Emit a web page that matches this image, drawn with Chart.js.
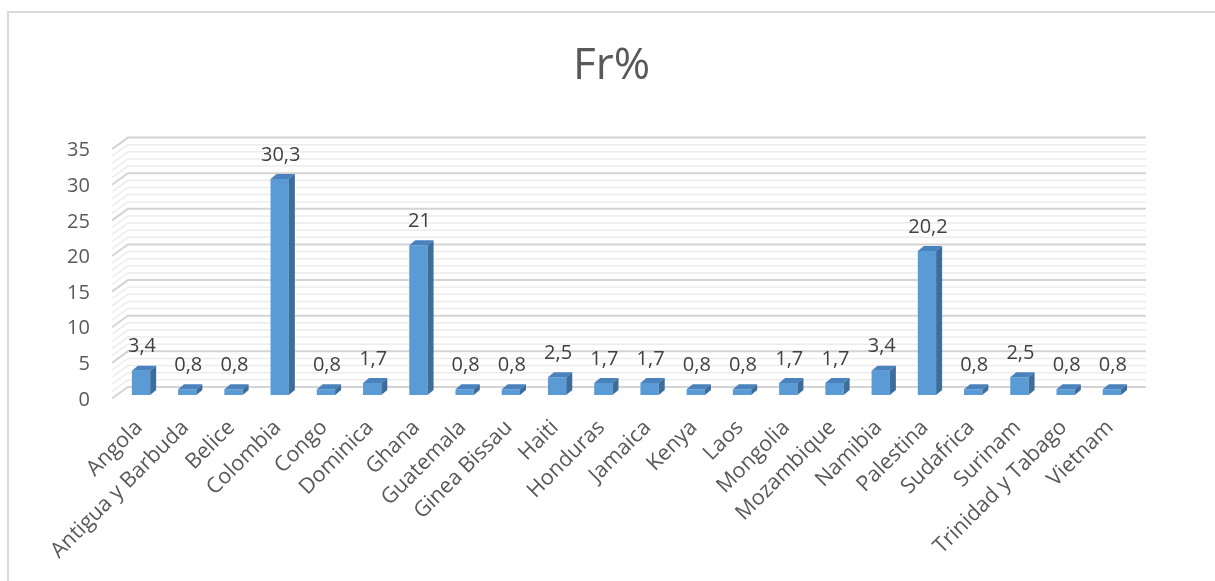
<!DOCTYPE html>
<html><head><meta charset="utf-8">
<script src="https://cdn.jsdelivr.net/npm/chart.js@4.4.1/dist/chart.umd.min.js"></script>
<style>
html,body{margin:0;padding:0;background:#fff;overflow:hidden;width:1215px;height:581px}
#frame{position:absolute;left:7px;top:11px;width:1400px;height:800px;border:2px solid #dadada;box-sizing:border-box}
#wrap{position:absolute;left:0;top:0;width:1215px;height:581px}
</style></head><body>
<div id="frame"></div>
<div id="wrap"><canvas id="c" width="1215" height="581"></canvas></div>
<script>
const chartTitle = 'Fr%';
const categories = ['Angola','Antigua y Barbuda','Belice','Colombia','Congo','Dominica','Ghana','Guatemala','Ginea Bissau','Haiti','Honduras','Jamaica','Kenya','Laos','Mongolia','Mozambique','Namibia','Palestina','Sudafrica','Surinam','Trinidad y Tabago','Vietnam'];
const values = [3.4,0.8,0.8,30.3,0.8,1.7,21,0.8,0.8,2.5,1.7,1.7,0.8,0.8,1.7,1.7,3.4,20.2,0.8,2.5,0.8,0.8];
const yMin = 0, yMax = 35, yStep = 5, yMinorStep = 1;

const FONT = "'Open Sans', 'Noto Sans', sans-serif";
const FRONT = '#5b9bd5', TOP = '#4a82bd', SIDE = '#3d6d9b';
const DX = 6, DY = -5;          // bar depth
const WALL_DX = 10, WALL_DY = -8; // back wall offset
const WALL_FRONT_X = 112, WALL_FRONT_DY = 3.5;

function fmt(v){ return String(v).replace('.', ','); }

const wallPlugin = {
  id: 'wall',
  beforeDatasetsDraw(chart){
    const ctx = chart.ctx, ys = chart.scales.y, ca = chart.chartArea;
    const x0 = ca.left + WALL_DX, x1 = ca.right + 11;
    ctx.save();
    ctx.lineCap = 'butt';
    for (let v = ys.min; v <= ys.max + 1e-9; v += yMinorStep) {
      const major = Math.abs(v / yStep - Math.round(v / yStep)) < 1e-9;
      const py = ys.getPixelForValue(v);
      ctx.strokeStyle = major ? '#d4d4d4' : '#ececec';
      ctx.lineWidth = major ? 2 : 1.5;
      ctx.beginPath();
      ctx.moveTo(WALL_FRONT_X, py + WALL_FRONT_DY);
      ctx.lineTo(x0, py + WALL_DY);
      ctx.lineTo(x1, py + WALL_DY);
      ctx.stroke();
    }
    ctx.restore();
  },
  afterDatasetsDraw(chart){
    const ctx = chart.ctx, meta = chart.getDatasetMeta(0);
    const ds = chart.data.datasets[0].data;
    ctx.save();
    meta.data.forEach((bar, i) => {
      const {x, y, base, width} = bar.getProps(['x','y','base','width'], true);
      const l = x - width/2, r = x + width/2;
      ctx.fillStyle = TOP;
      ctx.beginPath();
      ctx.moveTo(l, y); ctx.lineTo(r, y); ctx.lineTo(r+DX, y+DY); ctx.lineTo(l+DX, y+DY);
      ctx.closePath(); ctx.fill();
      ctx.fillStyle = SIDE;
      ctx.beginPath();
      ctx.moveTo(r, y); ctx.lineTo(r+DX, y+DY); ctx.lineTo(r+DX, base+DY); ctx.lineTo(r, base);
      ctx.closePath(); ctx.fill();
      ctx.fillStyle = '#404040';
      ctx.font = '20px ' + FONT;
      ctx.textAlign = 'center';
      ctx.textBaseline = 'middle';
      ctx.fillText(fmt(ds[i]), x + 1, y - 24);
    });
    ctx.restore();
  }
};

new Chart(document.getElementById('c'), {
  type: 'bar',
  data: {
    labels: categories,
    datasets: [{ data: values, backgroundColor: FRONT, borderWidth: 0,
      barPercentage: 0.396, categoryPercentage: 1 }]
  },
  options: {
    responsive: false,
    animation: false,
    events: [],
    layout: { padding: { left: 8, right: 0, top: 0, bottom: 0 } },
    plugins: {
      legend: { display: false },
      tooltip: { enabled: false },
      title: { display: true, text: chartTitle, color: '#595959',
        font: { family: FONT, size: 44, weight: 'normal', lineHeight: 1.2 },
        padding: { top: 40, bottom: 52.8 } }
    },
    scales: {
      x: {
        grid: { display: false, drawTicks: false },
        border: { display: false },
        ticks: { color: '#595959', font: { family: FONT, size: 21.5 }, minRotation: 45, maxRotation: 45, autoSkip: false, padding: 20, labelOffset: -2 },
        afterFit(s){ s.height = 186; }
      },
      y: {
        min: yMin, max: yMax,
        grid: { display: false, drawTicks: false },
        border: { display: false },
        ticks: { stepSize: yStep, color: '#595959', font: { family: FONT, size: 20 }, padding: 28, labelOffset: 5 },
        afterFit(s){ s.width = 109.9; }
      },
      yRight: {
        position: 'right',
        display: true,
        min: yMin, max: yMax,
        grid: { display: false, drawTicks: false },
        border: { display: false },
        ticks: { display: false },
        afterFit(s){ s.width = 80; }
      }
    }
  },
  plugins: [wallPlugin]
});
</script>
</body></html>
